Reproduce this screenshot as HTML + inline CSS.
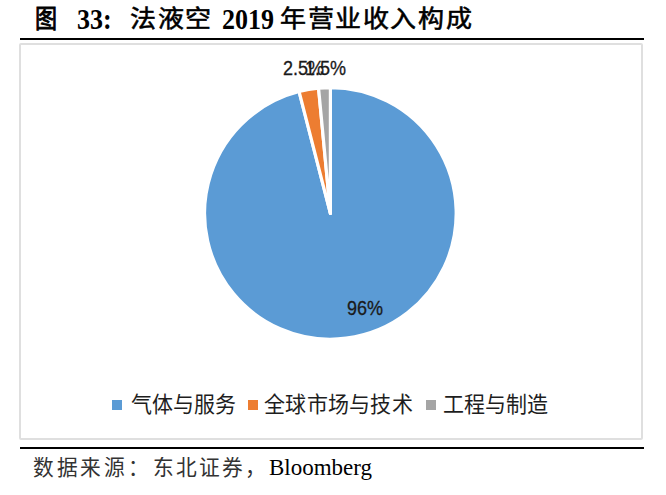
<!DOCTYPE html>
<html lang="zh-CN">
<head>
<meta charset="utf-8">
<style>
html,body{margin:0;padding:0;background:#fff;}
body{width:666px;height:495px;position:relative;overflow:hidden;}
.t{position:absolute;white-space:nowrap;line-height:1;}
.title{font-family:"Liberation Serif",serif;font-weight:bold;font-size:26px;color:#000;}
.cj{font-weight:normal;-webkit-text-stroke:0.6px #000;transform:scaleY(0.91);transform-origin:0 0;}
.lt{top:7.5px;transform:scaleY(1.11);transform-origin:0 21.8px;}
.rule{position:absolute;left:20px;width:624px;height:2px;background:#000;}
.box{position:absolute;left:19px;top:43px;width:620px;height:393px;border:2px solid #dfdfdf;border-radius:2px;}
.leg{font-family:"Liberation Sans",sans-serif;font-size:21px;color:#1e1e1e;transform:scaleY(1.05);transform-origin:0 0;}
.sq{position:absolute;width:10px;height:10px;top:399.5px;}
.lbl{font-family:"Liberation Sans",sans-serif;font-size:20px;color:#1a1a1a;-webkit-text-stroke:0.3px #1a1a1a;transform:scaleX(0.9);transform-origin:0 0;}
.src{font-family:"Liberation Serif",serif;font-size:23px;color:#000;}
.cs{color:#333;letter-spacing:2.6px;transform:scale(0.9,0.92);transform-origin:0 0;}
</style>
</head>
<body>
<div class="t title cj" style="left:35px;top:7px;transform:scale(0.85,1.02);-webkit-text-stroke:0.9px #000;">图</div>
<div class="t title lt" style="left:77px;">33:</div>
<div class="t title cj" style="left:130px;top:8px;letter-spacing:1.6px;">法液空</div>
<div class="t title lt" style="left:222px;">2019</div>
<div class="t title cj" style="left:280px;top:8px;letter-spacing:1.6px;">年营业收入构成</div>
<div class="rule" style="top:38px;"></div>
<div class="box"></div>
<svg style="position:absolute;left:0;top:0" width="666" height="495" viewBox="0 0 666 495">
  <path d="M330.4 213.4 L330.40 87.60 A125.8 125.8 0 1 1 299.11 91.55 Z" fill="#5B9BD5" stroke="#fff" stroke-width="3.2" stroke-linejoin="round"/>
  <path d="M330.4 213.4 L299.11 91.55 A125.8 125.8 0 0 1 318.56 88.16 Z" fill="#ED7D31" stroke="#fff" stroke-width="3.2" stroke-linejoin="round"/>
  <path d="M330.4 213.4 L318.56 88.16 A125.8 125.8 0 0 1 330.40 87.60 Z" fill="#A5A5A5" stroke="#fff" stroke-width="3.2" stroke-linejoin="round"/>
</svg>
<div class="t lbl" style="left:283px;top:57.5px;">2.5%</div>
<div class="t lbl" style="left:305px;top:57.5px;">1.5%</div>
<div class="t lbl" style="left:347px;top:298px;">96%</div>
<div class="sq" style="left:112px;background:#5B9BD5;"></div>
<div class="t leg" style="left:130.5px;top:393px;letter-spacing:0.2px;">气体与服务</div>
<div class="sq" style="left:248px;background:#ED7D31;"></div>
<div class="t leg" style="left:264px;top:393px;letter-spacing:0.3px;">全球市场与技术</div>
<div class="sq" style="left:426px;background:#A5A5A5;"></div>
<div class="t leg" style="left:442.5px;top:393px;letter-spacing:0.2px;">工程与制造</div>
<div class="rule" style="top:447px;"></div>
<div class="t src cs" style="left:33px;top:457.5px;letter-spacing:3.3px;">数据来源：</div>
<div class="t src cs" style="left:153px;top:457.5px;">东北证券，</div>
<div class="t src" style="left:269px;top:456px;">Bloomberg</div>
</body>
</html>
